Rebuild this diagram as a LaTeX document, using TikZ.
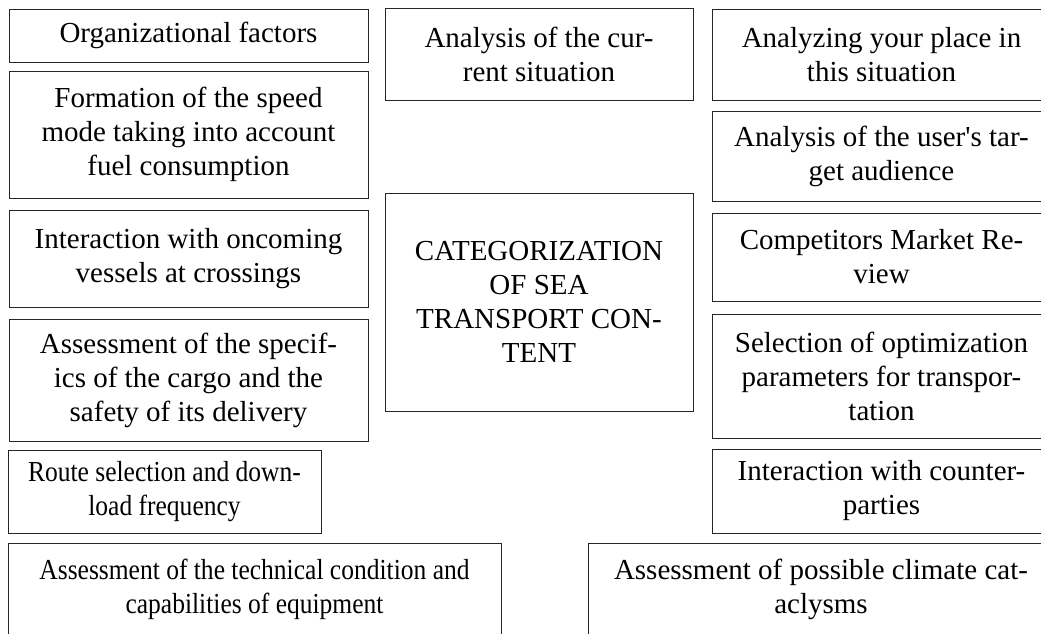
\documentclass[tikz,border=0pt]{standalone}
\usepackage{fontspec}
\setmainfont{Liberation Serif}
\newfontfamily\narrowfont[FakeStretch=0.88]{Liberation Serif}
\begin{document}
\begin{tikzpicture}[x=1pt,y=-1pt,
  box/.style={draw=black!85, line width=0.9pt, align=center, inner sep=0pt,
    font=\fontsize{29}{34}\selectfont},
  narrowbox/.style={box, font=\narrowfont\fontsize{29}{34}\selectfont}]
\useasboundingbox (0,0) rectangle (1041,633);
\clip (0,0) rectangle (1041,633);
% left column
\node[box, minimum width=359pt, minimum height=53pt] (l1) at (188.5,35.5) {Organizational factors};
\node[box, minimum width=359pt, minimum height=127pt] (l2) at (188.5,134.5) {Formation of the speed\\mode taking into account\\fuel consumption};
\node[box, minimum width=359pt, minimum height=97pt] (l3) at (188.5,258.5) {Interaction with oncoming\\vessels at crossings};
\node[box, minimum width=359pt, minimum height=122pt] (l4) at (188.5,380) {Assessment of the specif-\\ics of the cargo and the\\safety of its delivery};
\node[narrowbox, minimum width=313pt, minimum height=83pt] (l5) at (164.5,491.5) {Route selection and down-\\load frequency};
% middle
\node[box, minimum width=308pt, minimum height=92pt] (m1) at (539,54) {Analysis of the cur-\\rent situation};
\node[box, minimum width=308pt, minimum height=218pt] (m2) at (539,302) {CATEGORIZATION\\OF SEA\\TRANSPORT CON-\\TENT};
% right column
\node[box, minimum width=339pt, minimum height=91pt] (r1) at (881.5,54.5) {Analyzing your place in\\this situation};
\node[box, minimum width=339pt, minimum height=90pt] (r2) at (881.5,156) {Analysis of the user\textquotesingle s tar-\\get audience};
\node[box, minimum width=339pt, minimum height=88pt] (r3) at (881.5,257) {Competitors Market Re-\\view};
\node[box, minimum width=339pt, minimum height=124pt] (r4) at (881.5,376) {Selection of optimization\\parameters for transpor-\\tation};
\node[box, minimum width=339pt, minimum height=84pt] (r5) at (881.5,491) {Interaction with counter-\\parties};
% bottom
\node[narrowbox, minimum width=493pt, minimum height=92pt] (b1) at (254.5,589) {Assessment of the technical condition and\\capabilities of equipment};
\node[box, minimum width=466pt, minimum height=92pt] (b2) at (821,589) {Assessment of possible climate cat-\\aclysms};
\end{tikzpicture}
\end{document}
